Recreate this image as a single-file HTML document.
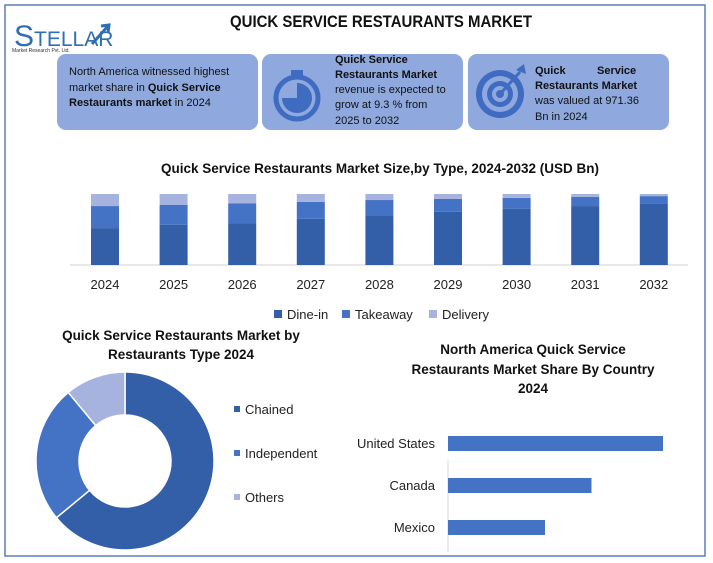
<!DOCTYPE html>
<html><head><meta charset="utf-8"><style>
body{margin:0;background:#fff;font-family:"Liberation Sans",sans-serif}
svg{display:block}
</style></head><body>
<svg id="s" width="713" height="563" viewBox="0 0 713 563" xmlns="http://www.w3.org/2000/svg">
<rect x="5" y="5" width="700" height="551" fill="#fff" stroke="#5b7fb8" stroke-width="1.5"/>
<g>
<text x="14" y="46" font-size="30" fill="#2f6db5" font-family="Liberation Sans Narrow, Liberation Sans, sans-serif">S<tspan font-size="21">TELLAR</tspan></text>
<path d="M92 44 L108 26 M101 26 L109 25 L108 33" stroke="#2f6db5" stroke-width="3" fill="none"/>
<text x="12" y="52" font-size="5" fill="#333">Market Research Pvt. Ltd.</text>
</g>
<text x="230" y="27" textLength="302" lengthAdjust="spacingAndGlyphs" font-size="17" font-weight="bold" fill="#111">QUICK SERVICE RESTAURANTS MARKET</text>
<g>
<rect x="57" y="54" width="201" height="76" rx="9" fill="#8fa9de"/>
<text font-size="11" fill="#111"><tspan x="69" y="75">North America witnessed highest</tspan><tspan x="69" y="91">market share in <tspan font-weight="bold">Quick Service</tspan></tspan><tspan x="69" y="106"><tspan font-weight="bold">Restaurants market</tspan> in 2024</tspan></text>
</g>
<g>
<rect x="262" y="54" width="201" height="76" rx="9" fill="#8fa9de"/>
<circle cx="297" cy="98" r="21" fill="none" stroke="#3f6bc0" stroke-width="5"/>
<path d="M297 98 L297 83 A15 15 0 1 1 282 98 Z" fill="#3f6bc0"/>
<rect x="291" y="70" width="12" height="5" fill="#3f6bc0"/>
<text font-size="11" fill="#111"><tspan x="335" y="63" font-weight="bold">Quick Service</tspan><tspan x="335" y="78" font-weight="bold">Restaurants Market</tspan><tspan x="335" y="93">revenue is expected to</tspan><tspan x="335" y="108">grow at 9.3 % from</tspan><tspan x="335" y="124">2025 to 2032</tspan></text>
</g>
<g>
<rect x="468" y="54" width="201" height="76" rx="9" fill="#8fa9de"/>
<circle cx="500" cy="94" r="24" fill="#3f6bc0"/><circle cx="500" cy="94" r="18" fill="#8fa9de"/><circle cx="500" cy="94" r="13" fill="#3f6bc0"/><circle cx="500" cy="94" r="8" fill="#8fa9de"/><circle cx="500" cy="94" r="4" fill="#3f6bc0"/>
<path d="M500 94 L520 72" stroke="#3f6bc0" stroke-width="3"/><path d="M516 70 L524 64 L526 74 Z" fill="#3f6bc0"/>
<text font-size="11" fill="#111"><tspan x="535" y="74" font-weight="bold">Quick</tspan><tspan x="597" y="74" font-weight="bold">Service</tspan><tspan x="535" y="89" font-weight="bold">Restaurants  Market</tspan><tspan x="535" y="104">was valued at 971.36</tspan><tspan x="535" y="120">Bn in 2024</tspan></text>
</g>
<text x="380" y="173" text-anchor="middle" font-size="13.5" font-weight="bold" fill="#111">Quick Service Restaurants Market Size,by Type, 2024-2032 (USD Bn)</text>
<line x1="70" y1="265" x2="688" y2="265" stroke="#d0d0d0"/>
<g id="bars"></g>
<g font-size="13" fill="#222">
<rect x="274" y="310" width="8" height="8" fill="#335ea8"/><text x="287" y="319">Dine-in</text>
<rect x="342" y="310" width="8" height="8" fill="#4472c4"/><text x="355" y="319">Takeaway</text>
<rect x="429" y="310" width="8" height="8" fill="#a5b3de"/><text x="442" y="319">Delivery</text>
</g>
<text text-anchor="middle" font-size="13.5" font-weight="bold" fill="#111"><tspan x="181" y="340">Quick Service Restaurants Market by</tspan><tspan x="181" y="359">Restaurants Type 2024</tspan></text>
<g id="donut"></g>
<g id="donut-legend" font-size="13" fill="#222"></g>
<text text-anchor="middle" font-size="13.5" font-weight="bold" fill="#111"><tspan x="533" y="354">North America Quick Service</tspan><tspan x="533" y="374">Restaurants Market Share By Country</tspan><tspan x="533" y="393">2024</tspan></text>
<line x1="448" y1="460" x2="448" y2="552" stroke="#d9d9d9"/>
<g id="hbars"></g>
</svg>
<script>
const years=["2024","2025","2026","2027","2028","2029","2030","2031","2032"];
const dineIn=[52,56.5,59,65,69,75,79,83,87];
const takeaway=[31,28,28,24,22.5,18,15.5,13,10];
const delivery=[17,15.5,13,11,8.5,7,5.5,4,3];
const donutLabels=["Chained","Independent","Others"];
const donutValues=[64,25,11];
const countries=["United States","Canada","Mexico"];
const countryValues=[43,28.7,19.4];
const NS="http://www.w3.org/2000/svg";
function mk(t,a,p){const e=document.createElementNS(NS,t);for(const k in a)e.setAttribute(k,a[k]);p.appendChild(e);return e;}
const gB=document.getElementById('bars');
const base=265,top0=194,yS=v=>v*(base-top0)/100,xC=i=>105+i*68.6;
years.forEach((y,i)=>{
 let cur=base;
 [[dineIn,'#335ea8','dine-in'],[takeaway,'#4472c4','takeaway'],[delivery,'#a5b3de','delivery']].forEach(([arr,c,n])=>{
  const h=yS(arr[i]);cur-=h;
  const r=mk('rect',{x:xC(i)-14,y:cur,width:28,height:h,fill:c},gB);
  
  
 });
 const t=mk('text',{x:xC(i),y:289,'text-anchor':'middle','font-size':13,fill:'#222'},gB);t.textContent=y;
 
 
});
const gD=document.getElementById('donut');const cx=125,cy=461,R=89,r0=46;
const cols=['#335ea8','#4472c4','#a5b3de'];const tot=donutValues.reduce((a,b)=>a+b,0);
let a0=0;
donutValues.forEach((v,i)=>{
 const a1=a0+v/tot*2*Math.PI;
 const p=(a,rr)=>[cx+rr*Math.sin(a),cy-rr*Math.cos(a)];
 const [x1,y1]=p(a0,R),[x2,y2]=p(a1,R),[x3,y3]=p(a1,r0),[x4,y4]=p(a0,r0);const lg=(a1-a0)>Math.PI?1:0;
 const s=mk('path',{d:`M${x1} ${y1}A${R} ${R} 0 ${lg} 1 ${x2} ${y2}L${x3} ${y3}A${r0} ${r0} 0 ${lg} 0 ${x4} ${y4}Z`,fill:cols[i],stroke:'#fff','stroke-width':1.5},gD);
 
 
 a0=a1;
 const gl=document.getElementById('donut-legend');
 mk('rect',{x:234,y:406+i*44,width:6,height:6,fill:cols[i]},gl);
 const t=mk('text',{x:245,y:414+i*44},gl);t.textContent=donutLabels[i];
 
 
});
const gH=document.getElementById('hbars');const hx=v=>v*5;
countries.forEach((c,i)=>{
 const y=436+i*42;
 const b=mk('rect',{x:448,y:y,width:hx(countryValues[i]),height:15,fill:'#4472c4'},gH);
 
 
 const t=mk('text',{x:435,y:y+12,'text-anchor':'end','font-size':13,fill:'#222'},gH);t.textContent=c;
 
 
});
</script>
</body></html>
